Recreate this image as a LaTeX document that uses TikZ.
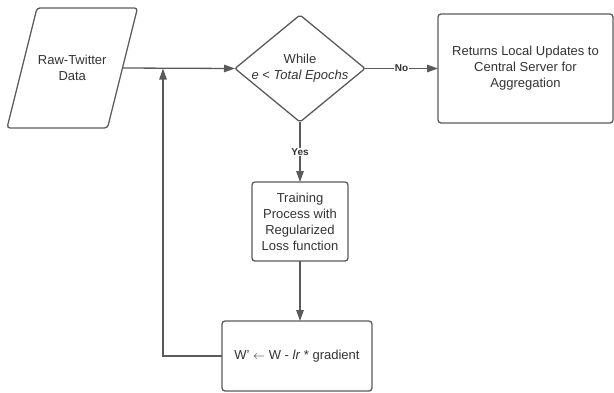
\documentclass[tikz,border=0pt]{standalone}
\usepackage{fontspec}
\setmainfont{Liberation Sans}
\usetikzlibrary{positioning,arrows.meta,shapes.geometric}
\definecolor{linegray}{HTML}{5A5A5A}
\definecolor{txtgray}{HTML}{333333}

\begin{document}
\begin{tikzpicture}[>={Triangle[length=11pt,width=7.5pt]}, x=1pt, y=-1pt, node distance=60pt,
    every node/.style={font=\fontsize{13}{16}\selectfont, text=txtgray}]
  % flowchart styles
  \tikzset{box/.style={draw=linegray, line width=1.3pt, rounded corners=3pt, align=center, outer sep=0pt},
           io/.style={align=center, outer sep=0pt, minimum width=100.5pt, minimum height=120pt},
           decide/.style={box, diamond, rounded corners=2pt, minimum width=130pt, minimum height=107pt,
             inner xsep=-12pt, inner ysep=-6pt, aspect=1.2},
           flow/.style={draw=linegray, line width=1.3pt, ->},
           tag/.style={font=\bfseries\fontsize{10}{12}\selectfont, fill=white, inner sep=1pt}}
  \useasboundingbox (0,0) rectangle (614,392);

  % nodes and layout
  \node[io] (data) at (72.25,68) {Raw-Twitter\\Data};
  \draw[draw=linegray, line width=1.3pt, rounded corners=3pt]
    ([xshift=15pt]data.north west) -- ([xshift=15pt]data.north east)
    -- ([xshift=-15pt]data.south east) -- ([xshift=-15pt]data.south west) -- cycle;
  \node[decide] (loop) at (300,68.5) {While\\\textit{e} < \textit{Total Epochs}};
  \node[box, right=73pt of loop, minimum width=175pt, minimum height=109pt] (ret)
    {Returns Local Updates to\\Central Server for\\Aggregation};
  \node[box, below=60pt of loop, minimum width=96pt, minimum height=79pt] (train)
    {Training\\Process with\\Regularized\\Loss function};
  \node[box, below=60pt of train, xshift=-3pt, minimum width=150pt, minimum height=70pt] (upd)
    {W' $\leftarrow$ W - \textit{lr} * gradient};
  \coordinate (join) at (163,68.5);

  % connectors
  \draw[flow] (data.east) -- (loop.west);
  \draw[flow] (loop.east) -- (ret.west) node[midway, tag] {No};
  \draw[flow] (loop.south) -- (train.north) node[midway, tag] {Yes};
  \draw[flow] (train.south) -- (train.south |- upd.north);
  \draw[flow] (upd.west) -| (join);
\end{tikzpicture}
\end{document}
